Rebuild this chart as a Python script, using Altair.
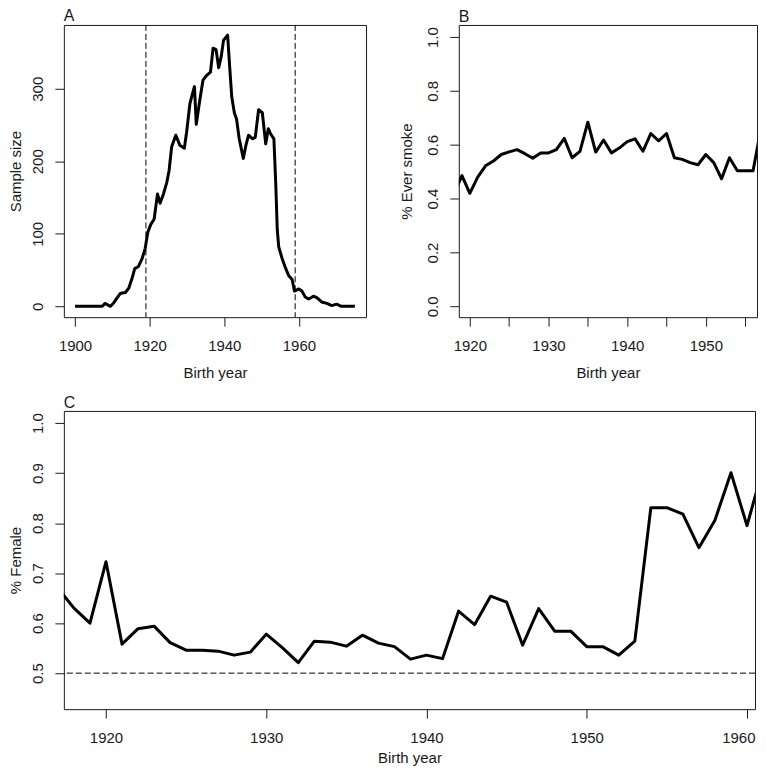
import altair as alt
import pandas as pd

# ---- Panel A: sample size by birth year ----
A_years = [1900, 1907.3, 1908, 1909.5, 1910.4, 1911.3, 1912.2, 1913.5, 1914.4, 1915.3,
           1916, 1917, 1918, 1918.8, 1919.5, 1920.3, 1921.2, 1922.1, 1922.8, 1923.7,
           1924.6, 1925.2, 1925.9, 1927, 1928.1, 1929.3, 1929.9, 1930.8, 1932, 1932.5,
           1933.4, 1934.3, 1935.2, 1936.3, 1937, 1937.8, 1938.5, 1939.2, 1939.8, 1940.9,
           1941.4, 1942, 1942.7, 1943.3, 1944, 1945.1, 1945.8, 1946.5, 1947.6, 1948.3,
           1949.2, 1950.2, 1951.1, 1951.8, 1952.4, 1953.3, 1953.8, 1954.2, 1954.6, 1955.5,
           1956.4, 1957.3, 1958.2, 1958.8, 1960, 1960.8, 1961.7, 1962.6, 1963.9, 1964.8,
           1966.1, 1967.5, 1968.8, 1970.1, 1971.4, 1975]
A_sizes = [0, 0, 4, 0, 5, 12, 18, 19, 25, 39,
           52, 55, 66, 80, 102, 113, 120, 155, 142, 155,
           171, 187, 220, 236, 222, 218, 240, 280, 303, 251,
           283, 312, 318, 323, 356, 354, 329, 345, 367, 374,
           334, 289, 267, 258, 231, 204, 222, 236, 231, 233,
           271, 267, 224, 245, 238, 231, 169, 106, 82, 66,
           53, 42, 37, 21, 24, 21, 13, 10, 14, 12,
           6, 4, 1, 3, 0, 0]
A_cutoffs = [1919, 1959]
A_xticks = [1900, 1920, 1940, 1960]
A_yticks = [0, 100, 200, 300]

# ---- Panel B: % ever smoke ----
B_years = list(range(1918, 1958))
B_smoke = [0.42, 0.486, 0.42, 0.48, 0.522, 0.54, 0.564, 0.574, 0.582, 0.567,
           0.55, 0.57, 0.57, 0.582, 0.624, 0.552, 0.576, 0.684, 0.573, 0.618,
           0.57, 0.588, 0.612, 0.622, 0.576, 0.642, 0.615, 0.642, 0.552, 0.546,
           0.534, 0.526, 0.564, 0.534, 0.474, 0.552, 0.504, 0.504, 0.504, 0.66]
B_xticks = [1920, 1925, 1930, 1935, 1940, 1945, 1950, 1955]
B_yticks = [0.0, 0.2, 0.4, 0.6, 0.8, 1.0]

# ---- Panel C: % female ----
C_years = list(range(1917, 1962))
C_female = [0.67, 0.63, 0.60, 0.723, 0.558, 0.589, 0.594, 0.561, 0.546, 0.546,
            0.544, 0.536, 0.542, 0.578, 0.551, 0.521, 0.564, 0.562, 0.554, 0.576,
            0.56, 0.553, 0.528, 0.536, 0.529, 0.624, 0.597, 0.654, 0.642, 0.556,
            0.629, 0.584, 0.584, 0.553, 0.553, 0.536, 0.564, 0.831, 0.831, 0.818,
            0.751, 0.806, 0.901, 0.795, 0.91]
C_ref = [0.5]
C_xticks = [1920, 1930, 1940, 1950, 1960]
C_yticks = [0.5, 0.6, 0.7, 0.8, 0.9, 1.0]

FONT = "Liberation Sans"
INK = "#1a1a1a"
FS = 15


def xaxis(values, title_y=60, label_expr=None, flush=False, flush_offset=0):
    kw = dict(values=values, format="d", tickSize=9, tickColor=INK, tickWidth=1,
              labelPadding=12, domain=False, grid=False, labelFlush=flush,
              labelFlushOffset=flush_offset,
              labelOverlap=False, title="Birth year", titleY=title_y,
              titleBaseline="alphabetic", labelFontSize=FS, titleFontSize=FS,
              titleFontWeight="normal", labelColor=INK, titleColor=INK,
              labelFont=FONT, titleFont=FONT)
    if label_expr:
        kw["labelExpr"] = label_expr
    return alt.Axis(**kw)


def yaxis(values, fmt, title, title_x, h):
    return alt.Axis(values=values, format=fmt, tickSize=9, tickColor=INK, tickWidth=1,
                    labelPadding=12, domain=False, grid=False, labelAngle=270,
                    labelAlign="center", labelBaseline="alphabetic", labelOverlap=False,
                    labelFlush=False, title=title, titleAngle=270, titleX=title_x,
                    titleY=h / 2, titleAlign="center", titleBaseline="alphabetic",
                    labelFontSize=FS, titleFontSize=FS, titleFontWeight="normal",
                    labelColor=INK, titleColor=INK, labelFont=FONT, titleFont=FONT)


def panel_title(letter):
    return alt.TitleParams(letter, anchor="start", frame="group", fontSize=16,
                           font=FONT, fontWeight="normal", color=INK, offset=0)


TOP_H = 293
C_H = 299

dfA = pd.DataFrame({"year": A_years, "n": A_sizes})
dfA_cut = pd.DataFrame({"year": A_cutoffs})
xA = alt.Scale(domain=[1897, 1978], nice=False, zero=False)
yA = alt.Scale(domain=[-15, 388], nice=False, zero=False)
lineA = alt.Chart(dfA).mark_line(color="black", strokeWidth=3, strokeJoin="round", clip=True).encode(
    x=alt.X("year:Q", scale=xA, axis=xaxis(A_xticks)),
    y=alt.Y("n:Q", scale=yA, axis=yaxis(A_yticks, "d", "Sample size", -43, TOP_H)),
)
cutA = alt.Chart(dfA_cut).mark_rule(color="black", strokeWidth=1, strokeDash=[6, 3]).encode(
    x=alt.X("year:Q", scale=xA)
)
panelA = alt.layer(cutA, lineA).properties(width=303, height=TOP_H, title=panel_title("A"))

dfB = pd.DataFrame({"year": B_years, "p": B_smoke})
xB = alt.Scale(domain=[1918.6, 1956.5], nice=False, zero=False)
yB = alt.Scale(domain=[-0.04, 1.045], nice=False, zero=False)
panelB = alt.Chart(dfB).mark_line(color="black", strokeWidth=3, strokeJoin="round", clip=True).encode(
    x=alt.X("year:Q", scale=xB,
            axis=xaxis(B_xticks, label_expr="datum.value % 10 == 0 ? format(datum.value, 'd') : ''")),
    y=alt.Y("p:Q", scale=yB, axis=yaxis(B_yticks, ".1f", "% Ever smoke", -47, TOP_H)),
).properties(width=299, height=TOP_H, title=panel_title("B"))

dfC = pd.DataFrame({"year": C_years, "p": C_female})
dfC_ref = pd.DataFrame({"p": C_ref})
xC = alt.Scale(domain=[1917.37, 1960.5], nice=False, zero=False)
yC = alt.Scale(domain=[0.428, 1.0245], nice=False, zero=False)
lineC = alt.Chart(dfC).mark_line(color="black", strokeWidth=3, strokeJoin="round", clip=True).encode(
    x=alt.X("year:Q", scale=xC, axis=xaxis(C_xticks, title_y=53, flush=12, flush_offset=8)),
    y=alt.Y("p:Q", scale=yC, axis=yaxis(C_yticks, ".1f", "% Female", -43, C_H)),
)
refC = alt.Chart(dfC_ref).mark_rule(color="black", strokeWidth=1, strokeDash=[6, 3]).encode(
    y=alt.Y("p:Q", scale=yC)
)
panelC = alt.layer(refC, lineC).properties(width=693, height=C_H, title=panel_title("C"))

top = alt.hconcat(panelA, panelB, spacing=32)
chart = alt.vconcat(top, panelC, spacing=13).configure(
    padding={"left": 0, "top": -1, "right": 0, "bottom": 0}
).configure_view(stroke=INK, strokeWidth=1)

chart.save("out.html", embed_options={"renderer": "svg", "actions": False})
